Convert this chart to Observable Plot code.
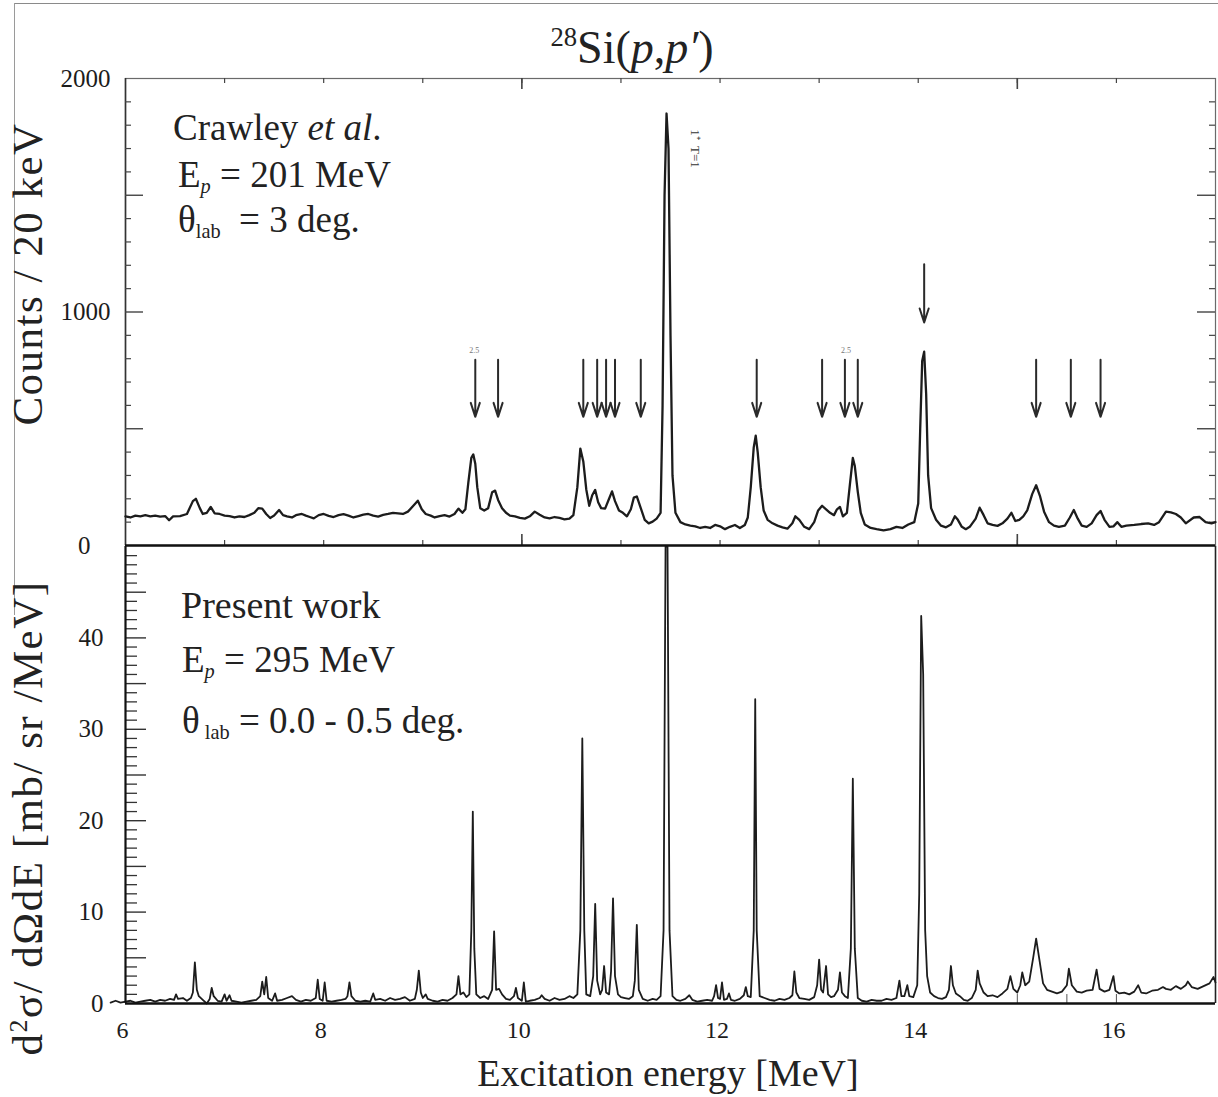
<!DOCTYPE html>
<html><head><meta charset="utf-8">
<script src="https://cdn.jsdelivr.net/npm/d3@7"></script>
<script src="https://cdn.jsdelivr.net/npm/@observablehq/plot@0.6"></script>
<style>
body{margin:0;background:#fff;}
#fig{position:relative;width:1218px;height:1097px;overflow:hidden;background:#fff;font-family:"Liberation Serif",serif;color:#222;}
#fig svg{position:absolute;left:0;top:0;}
#fig svg text{font-family:"Liberation Serif",serif;}
.t{position:absolute;white-space:nowrap;line-height:1;}
.sub{font-size:0.55em;vertical-align:-0.28em;}
</style></head><body><div id="fig"></div>
<script>
// ---- Data ----
// Upper panel: Crawley et al., counts / 20 keV vs excitation energy [MeV]
const crawleySpectrum = [
[6.00,125],[6.05,120],[6.10,128],[6.15,125],[6.20,130],[6.25,125],[6.30,128],[6.35,124],[6.40,126],[6.44,108],
[6.48,125],[6.55,126],[6.62,135],[6.68,190],[6.71,200],[6.75,160],[6.78,135],[6.82,140],[6.86,165],[6.90,138],
[6.95,135],[7.00,128],[7.05,126],[7.10,120],[7.15,125],[7.20,122],[7.25,130],[7.30,140],[7.34,160],[7.38,158],
[7.42,135],[7.46,118],[7.50,128],[7.55,152],[7.59,130],[7.63,125],[7.68,120],[7.72,130],[7.78,135],[7.82,128],
[7.86,122],[7.90,116],[7.95,130],[8.00,135],[8.05,127],[8.10,122],[8.15,130],[8.20,134],[8.25,128],[8.30,120],
[8.35,126],[8.40,132],[8.45,135],[8.50,128],[8.55,124],[8.60,131],[8.65,135],[8.70,140],[8.75,138],[8.80,135],
[8.85,145],[8.90,168],[8.95,192],[8.99,155],[9.03,135],[9.08,128],[9.12,120],[9.17,126],[9.22,130],[9.27,124],
[9.32,135],[9.36,158],[9.40,140],[9.43,155],[9.46,270],[9.49,375],[9.51,390],[9.53,350],[9.55,250],[9.58,160],
[9.62,150],[9.66,160],[9.70,228],[9.73,235],[9.76,195],[9.80,160],[9.84,140],[9.88,128],[9.93,125],[9.98,118],
[10.03,115],[10.08,125],[10.13,145],[10.18,132],[10.23,120],[10.28,116],[10.33,122],[10.38,118],[10.43,112],[10.48,115],
[10.52,130],[10.56,250],[10.59,415],[10.62,360],[10.65,240],[10.68,170],[10.71,215],[10.74,238],[10.77,185],[10.80,160],
[10.84,158],[10.88,200],[10.91,232],[10.94,190],[10.98,150],[11.02,140],[11.06,125],[11.10,155],[11.13,205],[11.16,210],
[11.20,160],[11.24,110],[11.28,95],[11.32,102],[11.36,115],[11.40,140],[11.42,600],[11.44,1500],[11.46,1850],[11.48,1700],
[11.50,900],[11.52,300],[11.55,140],[11.60,100],[11.65,90],[11.70,85],[11.75,82],[11.80,75],[11.85,80],[11.90,75],
[11.95,88],[12.00,82],[12.05,70],[12.10,80],[12.15,88],[12.20,75],[12.25,88],[12.28,120],[12.31,250],[12.34,420],
[12.36,470],[12.38,400],[12.41,250],[12.44,150],[12.48,110],[12.53,95],[12.58,85],[12.63,78],[12.68,72],[12.73,95],
[12.76,125],[12.80,110],[12.85,80],[12.90,70],[12.95,100],[12.99,150],[13.03,170],[13.07,155],[13.11,140],[13.15,130],
[13.18,155],[13.21,165],[13.24,125],[13.28,140],[13.31,260],[13.34,375],[13.36,340],[13.39,230],[13.42,140],[13.46,90],
[13.52,75],[13.58,70],[13.65,65],[13.72,70],[13.78,80],[13.84,75],[13.90,90],[13.96,100],[14.00,180],[14.02,500],
[14.04,790],[14.06,830],[14.08,650],[14.10,300],[14.13,160],[14.18,110],[14.23,85],[14.28,78],[14.33,90],[14.37,125],
[14.40,110],[14.44,80],[14.48,70],[14.52,80],[14.58,115],[14.62,162],[14.66,130],[14.70,95],[14.75,88],[14.80,84],
[14.85,95],[14.90,115],[14.94,140],[14.98,105],[15.02,110],[15.06,125],[15.10,150],[15.15,220],[15.19,258],[15.23,210],
[15.27,145],[15.32,100],[15.37,85],[15.42,80],[15.48,85],[15.53,120],[15.57,152],[15.61,115],[15.65,85],[15.70,80],
[15.75,95],[15.80,130],[15.84,148],[15.88,110],[15.93,80],[15.97,82],[16.01,100],[16.05,80],[16.10,85],[16.18,88],
[16.25,92],[16.32,95],[16.38,88],[16.43,100],[16.50,145],[16.55,142],[16.60,135],[16.65,120],[16.70,95],[16.78,120],
[16.84,122],[16.90,100],[16.96,95],[17.00,100]
];
// Arrow positions (MeV) marked in the upper panel, and the single long arrow
const crawleyArrows = [9.53, 9.76, 10.62, 10.76, 10.85, 10.94, 11.20, 12.37, 13.03, 13.26, 13.39, 15.19, 15.54, 15.84];
const crawleyLongArrow = [14.06];

// Lower panel: present work, d2sigma/dOmega dE [mb/sr/MeV]
const presentSpectrum = [
[5.85,0.1],[5.90,0.3],[5.95,0.1],[6.00,0.2],[6.05,0.3],[6.10,0.1],[6.15,0.2],[6.20,0.3],[6.25,0.4],[6.30,0.2],
[6.35,0.4],[6.40,0.3],[6.45,0.5],[6.49,0.4],[6.51,1.0],[6.53,0.5],[6.58,0.6],[6.62,0.3],[6.66,0.6],[6.68,1.2],
[6.70,4.5],[6.72,1.5],[6.74,0.8],[6.78,0.4],[6.82,0.0],[6.85,0.5],[6.87,1.7],[6.89,0.8],[6.93,0.3],[6.97,0.2],
[7.00,1.0],[7.02,0.3],[7.05,0.9],[7.07,0.3],[7.12,0.2],[7.17,0.1],[7.22,0.2],[7.27,0.3],[7.32,0.4],[7.36,0.8],
[7.38,2.4],[7.40,1.0],[7.42,2.9],[7.44,0.6],[7.48,0.3],[7.51,1.1],[7.53,0.3],[7.58,0.4],[7.63,0.6],[7.68,0.8],
[7.72,0.4],[7.77,0.2],[7.82,0.4],[7.87,0.3],[7.92,0.6],[7.94,2.6],[7.96,0.5],[7.99,0.3],[8.01,2.3],[8.03,0.3],
[8.08,0.2],[8.13,0.3],[8.18,0.4],[8.22,0.5],[8.24,0.8],[8.26,2.3],[8.28,0.8],[8.32,0.3],[8.37,0.2],[8.42,0.3],
[8.47,0.2],[8.50,1.1],[8.52,0.4],[8.57,0.5],[8.62,0.3],[8.67,0.6],[8.72,0.4],[8.77,0.5],[8.82,0.7],[8.87,0.3],
[8.92,0.5],[8.94,1.5],[8.96,3.6],[8.98,1.2],[9.00,0.6],[9.03,1.0],[9.05,0.5],[9.10,0.3],[9.15,0.2],[9.20,0.4],
[9.25,0.3],[9.30,0.6],[9.34,1.0],[9.36,3.0],[9.38,1.0],[9.41,1.2],[9.44,0.7],[9.47,1.0],[9.49,8.0],[9.505,21.0],
[9.52,6.0],[9.54,1.0],[9.58,0.6],[9.62,0.8],[9.66,0.5],[9.70,1.5],[9.72,7.9],[9.74,1.5],[9.77,1.6],[9.80,1.0],
[9.84,0.5],[9.88,0.4],[9.92,0.8],[9.94,1.7],[9.96,0.6],[10.00,0.3],[10.02,2.3],[10.04,0.2],[10.08,0.3],[10.13,0.4],
[10.18,0.6],[10.20,0.9],[10.23,0.5],[10.28,0.3],[10.33,0.6],[10.38,0.4],[10.43,0.5],[10.48,0.8],[10.52,0.6],[10.56,1.0],
[10.59,8.0],[10.61,29.0],[10.63,8.0],[10.65,1.0],[10.69,0.8],[10.72,3.0],[10.74,10.9],[10.76,2.5],[10.79,1.0],[10.81,1.5],
[10.83,4.1],[10.85,1.2],[10.88,1.0],[10.90,3.5],[10.92,11.5],[10.94,3.0],[10.97,1.0],[11.00,0.7],[11.04,0.6],[11.08,0.5],
[11.12,0.8],[11.14,2.5],[11.16,8.6],[11.18,1.5],[11.22,0.5],[11.27,0.3],[11.32,0.5],[11.36,0.4],[11.40,0.8],[11.43,8.0],
[11.45,50],[11.47,50],[11.49,8.0],[11.52,0.8],[11.56,0.4],[11.60,0.3],[11.65,0.5],[11.69,0.9],[11.72,0.4],[11.77,0.2],
[11.82,0.3],[11.87,0.4],[11.92,0.3],[11.94,0.8],[11.96,2.0],[11.98,0.6],[12.00,0.5],[12.02,2.3],[12.04,0.4],[12.07,0.5],
[12.09,1.1],[12.11,0.4],[12.15,0.3],[12.20,0.5],[12.24,0.9],[12.26,1.8],[12.28,0.8],[12.31,0.7],[12.34,8.0],[12.355,33.3],
[12.37,8.0],[12.40,0.8],[12.45,0.6],[12.50,0.4],[12.55,0.3],[12.60,0.5],[12.65,0.4],[12.70,0.6],[12.73,0.9],[12.75,3.5],
[12.77,1.2],[12.80,0.6],[12.85,0.5],[12.90,0.4],[12.95,0.7],[12.98,2.0],[13.00,4.8],[13.02,1.5],[13.04,1.2],[13.07,4.1],
[13.09,1.0],[13.12,0.7],[13.15,0.8],[13.19,1.5],[13.21,3.4],[13.23,1.2],[13.26,0.8],[13.29,0.6],[13.32,6.0],[13.34,24.6],
[13.36,6.0],[13.39,0.6],[13.43,0.3],[13.48,0.2],[13.53,0.4],[13.58,0.3],[13.63,0.3],[13.68,0.5],[13.73,0.4],[13.78,0.6],
[13.81,2.5],[13.83,0.8],[13.86,0.8],[13.89,2.0],[13.91,0.8],[13.95,0.7],[13.99,2.0],[14.01,12.0],[14.03,42.4],[14.05,36.0],
[14.07,8.0],[14.09,3.0],[14.12,1.2],[14.16,0.8],[14.20,0.6],[14.24,0.5],[14.28,0.7],[14.31,1.5],[14.33,4.1],[14.35,2.0],
[14.38,1.1],[14.42,0.8],[14.46,0.4],[14.50,0.3],[14.54,0.6],[14.58,1.5],[14.60,3.6],[14.62,2.2],[14.66,1.2],[14.70,0.8],
[14.75,0.9],[14.80,0.7],[14.85,1.1],[14.90,1.6],[14.93,3.0],[14.96,1.6],[15.00,1.2],[15.03,2.0],[15.05,3.4],[15.08,2.0],
[15.12,2.4],[15.16,5.0],[15.19,7.1],[15.22,5.0],[15.26,2.2],[15.30,1.5],[15.35,1.3],[15.40,1.1],[15.45,1.3],[15.50,2.0],
[15.52,3.8],[15.55,2.0],[15.60,1.3],[15.65,1.2],[15.70,1.4],[15.76,1.5],[15.80,3.7],[15.83,1.6],[15.88,1.3],[15.93,1.5],
[15.97,3.0],[15.99,1.4],[16.03,1.1],[16.08,1.2],[16.13,1.0],[16.18,1.3],[16.22,2.0],[16.25,1.2],[16.30,1.1],[16.36,1.4],
[16.42,1.5],[16.47,1.8],[16.50,1.6],[16.55,1.5],[16.60,1.9],[16.65,1.6],[16.70,2.0],[16.72,2.4],[16.76,1.8],[16.82,1.6],
[16.88,1.9],[16.94,2.2],[16.98,2.9],[17.00,2.3]
];

// Axes / ticks
const energyDomain = [6, 17];
const countsDomain = [0, 2000];
const xsecDomain = [0, 50];
const energyTickLabels = [6, 8, 10, 12, 14, 16];
const crawleyEnergyTicks = [7, 8, 9, 10, 11, 12, 13, 14, 15, 16];
const crawleyLongEnergyTicks = [10, 15];
const countsTickLabels = [1000, 2000];
const countsZeroLabel = [0];
const countsMinorTicks = d3.range(100, 2000, 100).filter(v => v % 500 !== 0);
const countsMajorTicks = [500, 1000, 1500];
const xsecTickLabels = [0, 10, 20, 30, 40];
const xsecMinorTicks = d3.range(1, 50, 1).filter(v => v % 5 !== 0);
const xsecMajorTicks = d3.range(5, 50, 5);
const presentBaseTicks = [15, 15.5, 16];

// ---- Layout ----
const W = 1218, H = 1097;
const mL = 125, mR = 3;
const topTop = 78, midY = 545, botY = 1003;
const pxPerMeV = (W - mL - mR) / (energyDomain[1] - energyDomain[0]);
const pxPerCount = (midY - topTop) / countsDomain[1];
const pxPerXsec = (botY - midY) / xsecDomain[1];
const ink = "#1c1c1c";
const fontFam = "'Liberation Serif', serif";
const svgStyle = {background: "transparent", overflow: "visible", fontFamily: fontFam, color: ink};

const fig = document.getElementById("fig");
const crawley = crawleySpectrum.map(([E, c]) => ({E, c}));
const present = presentSpectrum.map(([E, v]) => ({E, v}));
const arrowTop = 796, arrowBottom = 551, longArrowTop = 1204, longArrowBottom = 955;

const topPlot = Plot.plot({
  width: W, height: midY + 15,
  marginLeft: mL, marginRight: mR, marginTop: topTop, marginBottom: 15,
  x: {domain: energyDomain, axis: null},
  y: {domain: countsDomain, axis: null},
  style: svgStyle,
  marks: [
    Plot.frame({stroke: "#6a6a6a", strokeWidth: 1.2}),
    Plot.ruleX([energyDomain[0]], {stroke: "#333", strokeWidth: 1.6}),
    // inward ticks, left & right
    Plot.ruleY(countsMinorTicks, {y: d => d, x1: energyDomain[0], x2: energyDomain[0] + 6 / pxPerMeV, stroke: "#444", strokeWidth: 1.2}),
    Plot.ruleY(countsMajorTicks, {y: d => d, x1: energyDomain[0], x2: energyDomain[0] + 18 / pxPerMeV, stroke: "#444", strokeWidth: 1.4}),
    Plot.ruleY(countsMinorTicks, {y: d => d, x1: energyDomain[1] - 6 / pxPerMeV, x2: energyDomain[1], stroke: "#444", strokeWidth: 1.2}),
    Plot.ruleY(countsMajorTicks, {y: d => d, x1: energyDomain[1] - 18 / pxPerMeV, x2: energyDomain[1], stroke: "#444", strokeWidth: 1.4}),
    // inward ticks, bottom & top
    Plot.ruleX(crawleyEnergyTicks, {x: d => d, y1: 0, y2: 5 / pxPerCount, stroke: "#444", strokeWidth: 1.2}),
    Plot.ruleX(crawleyLongEnergyTicks, {x: d => d, y1: 0, y2: 11 / pxPerCount, stroke: "#444", strokeWidth: 1.6}),
    Plot.ruleX(crawleyEnergyTicks, {x: d => d, y1: countsDomain[1], y2: countsDomain[1] - 5 / pxPerCount, stroke: "#444", strokeWidth: 1.2}),
    Plot.ruleX(crawleyLongEnergyTicks, {x: d => d, y1: countsDomain[1], y2: countsDomain[1] - 11 / pxPerCount, stroke: "#444", strokeWidth: 1.6}),
    // spectrum
    Plot.line(crawley, {x: "E", y: "c", stroke: ink, strokeWidth: 2.3, strokeLinejoin: "round"}),
    // arrows
    Plot.arrow(crawleyArrows, {x1: d => d, x2: d => d, y1: arrowTop, y2: arrowBottom, stroke: "#2a2a2a", strokeWidth: 2, headLength: 11, headAngle: 36}),
    Plot.arrow(crawleyLongArrow, {x1: d => d, x2: d => d, y1: longArrowTop, y2: longArrowBottom, stroke: "#2a2a2a", strokeWidth: 2, headLength: 11, headAngle: 36}),
    Plot.text([9.52, 13.27], {x: d => d, y: 835, text: () => "2.5", fontSize: 8, fill: "#777"}),
    Plot.text([11.75], {x: d => d, y: 1700, text: () => "1\u207A  T=1", rotate: 90, fontSize: 13, fill: "#333"}),
    Plot.ruleY([0], {stroke: "#111", strokeWidth: 2.6}),
    // tick labels
    Plot.text(countsTickLabels, {x: energyDomain[0], y: d => d, text: d => String(d), dx: -15, textAnchor: "end", fontSize: 25, fill: ink}),
    Plot.text(countsZeroLabel, {x: energyDomain[0], y: d => d, text: d => String(d), dx: -35, textAnchor: "end", fontSize: 25, fill: ink})
  ]
});

const botPlot = Plot.plot({
  width: W, height: H,
  marginLeft: mL, marginRight: mR, marginTop: midY + 1, marginBottom: H - botY,
  x: {domain: energyDomain, axis: null},
  y: {domain: xsecDomain, axis: null},
  style: svgStyle,
  marks: [
    Plot.ruleX([energyDomain[1]], {stroke: "#222", strokeWidth: 1.6}),
    Plot.ruleY(xsecMinorTicks, {y: d => d, x1: energyDomain[0], x2: energyDomain[0] + 12 / pxPerMeV, stroke: "#333", strokeWidth: 1.3}),
    Plot.ruleY(xsecMajorTicks, {y: d => d, x1: energyDomain[0], x2: energyDomain[0] + 21 / pxPerMeV, stroke: "#333", strokeWidth: 1.4}),
    Plot.ruleX(presentBaseTicks, {x: d => d, y1: 0, y2: 9 / pxPerXsec, stroke: "#555", strokeWidth: 1}),
    Plot.line(present, {x: "E", y: "v", stroke: ink, strokeWidth: 1.8, strokeLinejoin: "round"}),
    Plot.ruleX([energyDomain[0]], {stroke: "#111", strokeWidth: 2.2}),
    Plot.ruleY([0], {stroke: "#111", strokeWidth: 2.6}),
    Plot.text(xsecTickLabels, {x: energyDomain[0], y: d => d, text: d => String(d), dx: -22, textAnchor: "end", fontSize: 25, fill: ink}),
    Plot.text(energyTickLabels, {x: d => d, y: 0, text: d => String(d), dy: 27, dx: -3, fontSize: 24, fill: ink})
  ]
});

fig.append(botPlot);
fig.append(topPlot);

function addText(html, left, baseline, size, extra = "") {
  const d = document.createElement("div");
  d.className = "t";
  d.style.cssText = `left:${left}px;top:${baseline - size * 0.84}px;font-size:${size}px;${extra}`;
  d.innerHTML = html;
  fig.append(d);
  return d;
}
function addRotated(html, cx, cy, size, extra = "") {
  const d = document.createElement("div");
  d.className = "t";
  d.style.cssText = `left:${cx}px;top:${cy}px;font-size:${size}px;transform:translate(-50%,-50%) rotate(-90deg);${extra}`;
  d.innerHTML = html;
  fig.append(d);
}

// border of the scanned page
const bt = document.createElement("div");
bt.style.cssText = "position:absolute;left:14px;top:3px;width:1204px;height:1px;background:#8a8a8a;";
fig.append(bt);
const bl = document.createElement("div");
bl.style.cssText = "position:absolute;left:14px;top:3px;width:1px;height:612px;background:#9a9a9a;";
fig.append(bl);

// title
addText("<span style='font-size:0.58em;vertical-align:0.62em'>28</span>Si(<i>p</i>,<i>p\u2032</i>)", 632, 63, 46, "transform:translateX(-50%);");

// axis titles
addRotated("Counts / 20 keV", 27, 274, 43, "letter-spacing:1.5px;");
addRotated("d<span style='font-size:0.6em;vertical-align:0.55em'>2</span>σ/ dΩdE [mb/ sr /MeV]", 27, 818, 43, "letter-spacing:1.5px;");
addText("Excitation energy [MeV]", 668, 1086, 38, "transform:translateX(-50%);");

// panel annotations
addText("Crawley <i>et al</i>.", 173, 140, 37);
addText("E<i class='sub'>p</i> = 201 MeV", 178, 187, 37);
addText("θ<span class='sub'>lab</span>&nbsp; = 3 deg.", 178, 232, 37);
addText("Present work", 181, 618, 38);
addText("E<i class='sub'>p</i> = 295 MeV", 182, 672, 37);
addText("θ<span class='sub'> lab</span> = 0.0 - 0.5 deg.", 182, 733, 37);
</script>
</body></html>
